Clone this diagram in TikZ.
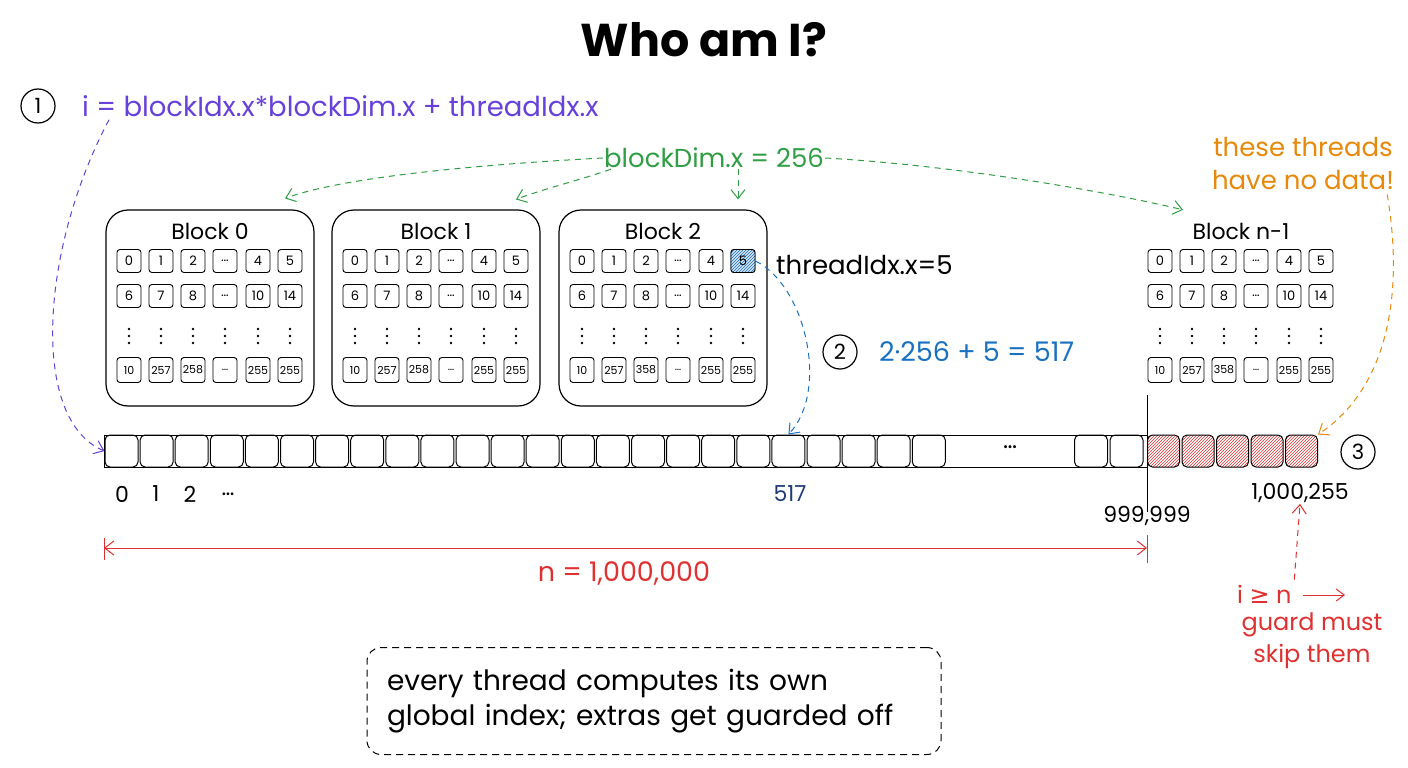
\documentclass[tikz,border=0pt]{standalone}
\usepackage{fontspec}
\setmainfont{Poppins}
\newfontfamily\symfont{DejaVu Sans}
\usetikzlibrary{arrows.meta,patterns,calc}
\definecolor{cpurple}{HTML}{6741D9}
\definecolor{cgreen}{HTML}{2F9E44}
\definecolor{cblue}{HTML}{1971C2}
\definecolor{cnavy}{HTML}{1E3A78}
\definecolor{cred}{HTML}{E03131}
\definecolor{corange}{HTML}{E8890C}
\tikzset{
  cell/.style={draw, rounded corners=3pt, minimum width=24pt, minimum height=23pt, inner sep=0pt, line width=0.9pt, font=\fontsize{13}{13}\selectfont},
  acell/.style={draw, rounded corners=5pt, minimum width=33pt, minimum height=32pt, inner sep=0pt, line width=1pt},
  hcell/.style={acell, pattern=north east lines, pattern color=cred},
  blockframe/.style={draw, rounded corners=22pt, minimum width=208pt, minimum height=196pt, line width=1.2pt},
  numcirc/.style={draw, circle, line width=1.2pt, minimum size=34pt, inner sep=0pt, font=\fontsize{21}{21}\selectfont},
  lbl/.style={font=\fontsize{26}{26}\selectfont, inner sep=1pt},
  arr/.style={-{Straight Barb[length=9pt,width=14pt]}, dashed, line width=1pt, dash pattern=on 6pt off 5pt},
}
\begin{document}
\begin{tikzpicture}[x=1pt,y=-1pt]
\path[fill=white, use as bounding box] (0,0) rectangle (1408,768);

% title
\node[font=\fontsize{46}{46}\selectfont\bfseries] (title) at (704,40) {Who am I?};

% formula
\node[numcirc] (c1) at (38,106) {1};
\node[lbl, text=cpurple, anchor=west, font=\fontsize{27.5}{27.5}\selectfont] (formula) at (81,106) {i = blockIdx.x*blockDim.x + threadIdx.x};

% blockDim label
\node[lbl, text=cgreen] (gdim) at (714,158) {blockDim.x = 256};

% block frames
\node[blockframe] (b0) at (210,308) {};
\node[blockframe] (b1) at (436,308) {};
\node[blockframe] (b2) at (663,308) {};
\node[minimum width=208pt, minimum height=196pt] (bn) at (1241,308) {};

% block contents
\foreach \bx/\bn/\lab/\r in {210/b0/Block 0/258, 436/b1/Block 1/258, 663/b2/Block 2/358, 1241/bn/Block n-1/358}{
  \node[font=\fontsize{22}{22}\selectfont] (\bn-title) at (\bx,231) {\lab};
  \foreach \i/\dx/\ta/\tb/\tc in {1/-81/0/6/10, 2/-49/1/7/257, 3/-17/2/8/\r, 4/15/\dots/\dots/\dots, 5/48/4/10/255, 6/80/5/14/255}{
    \node[cell] (\bn-r1-\i) at (\bx+\dx,261) {\ta};
    \node[cell] (\bn-r2-\i) at (\bx+\dx,296) {\tb};
    \node[cell, draw=none] (\bn-r3-\i) at (\bx+\dx,336) {};
    \foreach \dy in {-7,0,7}{ \fill ($(\bn-r3-\i.center)+(0,\dy)$) circle (1.3pt); }
    \node[cell, minimum height=25pt, font=\fontsize{11}{11}\selectfont] (\bn-r4-\i) at (\bx+\dx,370) {\tc};
  }
}
% highlighted thread
\fill[cblue!18, rounded corners=3pt] (b2-r1-6.south west) rectangle (b2-r1-6.north east);
\fill[pattern=north east lines, pattern color=cblue, rounded corners=3pt] (b2-r1-6.south west) rectangle (b2-r1-6.north east);
\node[cell] at (b2-r1-6) {5};
\node[lbl, anchor=west] (tidx) at (775,265) {threadIdx.x=5};

% green arrows
\draw[arr, cgreen] (gdim.west) .. controls (470,165) and (340,178) .. ($(b0.north)+(75,-11)$);
\draw[arr, cgreen] ($(gdim.south west)+(8,0)$) .. controls (580,180) and (540,190) .. ($(b1.north)+(80,-10)$);
\draw[arr, cgreen] ($(gdim.south)+(24,0)$) -- ($(b2.north)+(75,-10)$);
\draw[arr, cgreen] (gdim.east) .. controls (950,165) and (1100,190) .. ($(bn.north)+(-58,0)$);

% array
\draw[line width=1pt] (104,435) rectangle (1147,467);
\foreach \i in {0,...,23}{
  \node[acell] (a\i) at (121.5+35.1*\i,451) {};
}
\node[font=\fontsize{24}{24}\selectfont] (adots) at (1010,447) {\dots};
\node[acell] (aL1) at (1091,451) {};
\node[acell] (aL2) at (1126.5,451) {};
\foreach \i/\x in {1/1163.5,2/1198,3/1232.5,4/1267,5/1301.5}{
  \node[hcell, minimum width=32pt] (h\i) at (\x,451) {};
}
\node[numcirc] (c3) at (1358,452) {3};
\coordinate (vt) at (1147,395);
\coordinate (vb) at (1147,512);
\draw[line width=1pt] (vt) -- (vb);

% index labels
\node[lbl, font=\fontsize{22}{22}\selectfont] (l0) at (122,494) {0};
\node[lbl, font=\fontsize{22}{22}\selectfont] (l1) at (156,494) {1};
\node[lbl, font=\fontsize{22}{22}\selectfont] (l2) at (190,494) {2};
\node[lbl, font=\fontsize{22}{22}\selectfont] (l3) at (228,494) {\dots};
\node[lbl, font=\fontsize{22}{22}\selectfont, text=cnavy] (l517) at (790,494) {517};
\node[lbl, font=\fontsize{22}{22}\selectfont] (l999) at (1147,516) {999,999};
\node[lbl, font=\fontsize{22}{22}\selectfont] (lend) at (1300,493) {1,000,255};

% purple arrow
\draw[arr, cpurple] ($(formula.south west)+(28,2)$) .. controls (40,250) and (30,420) .. (a0.west);

% step 2
\node[numcirc] (c2) at (840,352) {2};
\node[lbl, text=cblue, anchor=west, font=\fontsize{27}{27}\selectfont] (calc) at (878,352) {2·256 + 5 = 517};
\draw[arr, cblue] (b2-r1-6.east) .. controls (805,285) and (830,390) .. (a19.north);

% orange
\node[lbl, text=corange, align=center, font=\fontsize{26}{33}\selectfont] (nodata) at (1303,163) {these threads\\have no data!};
\draw[arr, corange] ($(nodata.south east)+(-8,4)$) .. controls (1405,300) and (1385,390) .. (h5.north east);

% n dimension
\coordinate (dl) at (104,548);
\coordinate (dr) at (1147,548);
\draw[cred, line width=1pt] (104,538) -- (104,560);
\draw[cred, line width=1pt] (1147,535) -- (1147,563);
\draw[cred, line width=1pt, {Straight Barb[length=9pt,width=14pt]}-{Straight Barb[length=9pt,width=14pt]}] (dl) -- (dr);
\node[lbl, text=cred, font=\fontsize{27}{27}\selectfont] (nlab) at (624,574) {n = 1,000,000};

% guard
\node[lbl, text=cred, anchor=west, font=\fontsize{24}{24}\selectfont] (geq) at (1236,594) {i {\symfont ≥} n};
\coordinate (garr) at (1345,595);
\draw[cred, line width=1pt, -{Straight Barb[length=8pt,width=12pt]}] ($(geq.east)+(10,1)$) -- (garr);
\node[lbl, text=cred, align=center, font=\fontsize{24}{32}\selectfont] (guard) at (1312,641) {guard must\\skip them};
\draw[arr, cred] ($(geq.north)+(30,-4)$) -- (lend.south);

% bottom note
\node[draw, dashed, dash pattern=on 7pt off 5pt, rounded corners=14pt, line width=1pt, minimum width=574pt, minimum height=107pt, text width=534pt, inner xsep=20pt, align=left, font=\fontsize{28}{35}\selectfont] (note) at (654,701) {every thread computes its own\\global index; extras get guarded off};
\end{tikzpicture}
\end{document}
